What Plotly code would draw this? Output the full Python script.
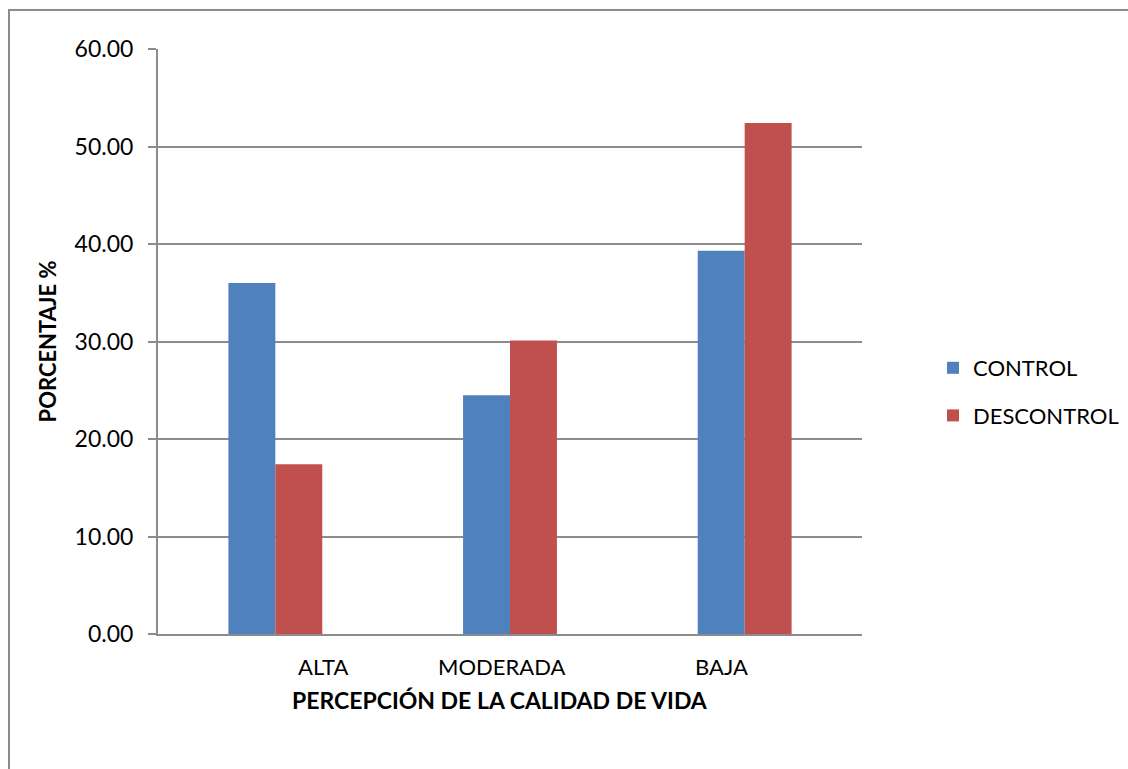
import plotly.graph_objects as go

categories = ["ALTA", "MODERADA", "BAJA"]
control = [36.0, 24.5, 39.3]
descontrol = [17.4, 30.1, 52.4]
y_ticks = [0, 10, 20, 30, 40, 50, 60]
y_tick_labels = ["0.00", "10.00", "20.00", "30.00", "40.00", "50.00", "60.00"]
label_shift = [48, -9, -23]

FONT = "Lato, 'Open Sans', sans-serif"
GRID = "#8c8c8c"

fig = go.Figure()
fig.add_trace(go.Bar(x=categories, y=control, name="CONTROL", legendgroup="a",
                     marker=dict(color="#4F81BD", line=dict(width=0))))
fig.add_trace(go.Bar(x=categories, y=descontrol, name="DESCONTROL", legendgroup="b",
                     marker=dict(color="#C0504D", line=dict(width=0))))

L, R, T, B = 158, 1128 - 862, 49, 769 - 634
W, H = 1128 - L - R, 769 - T - B

fig.update_layout(
    width=1128, height=769,
    margin=dict(l=L, r=R, t=T, b=B, pad=0, autoexpand=False),
    paper_bgcolor="white", plot_bgcolor="white",
    barmode="group", bargap=0.6, bargroupgap=0,
    font=dict(family=FONT, size=22, color="#000000"),
    showlegend=True,
    legend=dict(xref="container", yref="container",
                x=933 / 1128, y=1 - 347 / 769, xanchor="left", yanchor="top",
                font=dict(size=22), itemsizing="constant", tracegroupgap=16,
                traceorder="grouped",
                itemwidth=30, bgcolor="rgba(0,0,0,0)"),
    xaxis=dict(showticklabels=False, showline=True, linecolor=GRID, linewidth=2,
               ticks="", showgrid=False, zeroline=False),
    yaxis=dict(range=[0, 60], tickvals=y_ticks, ticktext=y_tick_labels,
               showgrid=True, gridcolor=GRID, gridwidth=2,
               showline=True, linecolor=GRID, linewidth=2,
               ticks="outside", ticklen=8, tickcolor=GRID, tickwidth=2,
               zeroline=False, tickfont=dict(size=23), ticklabelstandoff=10,
               title=dict(text="<b>PORCENTAJE %</b>", font=dict(size=22), standoff=12)),
)

for cat, sh in zip(categories, label_shift):
    fig.add_annotation(x=cat, y=0, xref="x", yref="y", text=cat, showarrow=False,
                       yanchor="top", yshift=-17, xshift=sh, font=dict(size=22))

fig.add_annotation(x=(500 - L) / W, y=-(700 - 634) / H, xref="paper", yref="paper",
                   text="<b>PERCEPCIÓN DE LA CALIDAD DE VIDA</b>", showarrow=False,
                   xanchor="center", yanchor="middle", font=dict(size=23))

# Chart area border
fig.add_shape(type="rect", xref="paper", yref="paper",
              x0=(9 - L) / W, x1=(1140 - L) / W,
              y0=-(780 - 634) / H, y1=1 + (T - 10) / H,
              line=dict(color="#8c8c8c", width=2), layer="below")

fig.write_html("out.html")
